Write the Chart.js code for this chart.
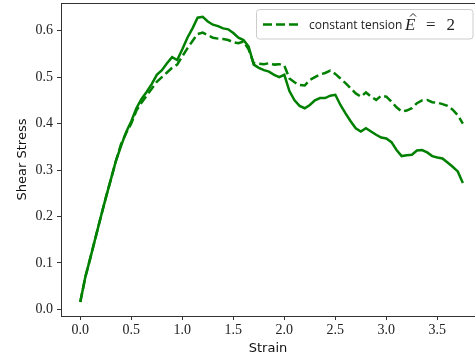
<!DOCTYPE html>
<html>
<head>
<meta charset="utf-8">
<script src="https://cdn.jsdelivr.net/npm/chart.js@4.4.1/dist/chart.umd.min.js"></script>
<style>
  html, body { margin: 0; padding: 0; background: #fff; overflow: hidden; }
  #wrap { width: 475px; height: 360px; position: relative; }
</style>
</head>
<body>
<div id="wrap"><canvas id="c" width="475" height="360"></canvas></div>
<script>
// ---- data ----
const strain = [0.00,0.05,0.10,0.15,0.20,0.25,0.30,0.35,0.40,0.45,0.50,0.55,0.60,0.65,0.70,0.75,0.80,0.85,0.90,0.95,
  1.00,1.05,1.10,1.15,1.20,1.25,1.30,1.35,1.40,1.45,1.50,1.55,1.60,1.65,1.70,1.75,1.80,1.85,1.90,1.95,
  2.00,2.05,2.10,2.15,2.20,2.25,2.30,2.35,2.40,2.45,2.50,2.55,2.60,2.65,2.70,2.75,2.80,2.85,2.90,2.95,
  3.00,3.05,3.10,3.15,3.20,3.25,3.30,3.35,3.40,3.45,3.50,3.55,3.60,3.65,3.70,3.75];

const stressSolid = [0.016,0.070,0.112,0.155,0.198,0.240,0.280,0.320,0.352,0.382,0.405,0.433,0.453,0.468,0.485,0.505,0.515,0.530,0.543,0.537,
  0.560,0.585,0.605,0.628,0.630,0.620,0.613,0.610,0.605,0.603,0.595,0.585,0.580,0.566,0.527,0.520,0.515,0.512,0.505,0.500,
  0.505,0.470,0.450,0.438,0.433,0.440,0.450,0.455,0.455,0.460,0.462,0.440,0.422,0.405,0.390,0.383,0.390,0.383,0.376,0.370,
  0.368,0.360,0.343,0.330,0.332,0.333,0.342,0.343,0.338,0.330,0.327,0.325,0.316,0.307,0.297,0.272];

const stressDashed = [0.016,0.070,0.112,0.155,0.198,0.240,0.280,0.320,0.356,0.380,0.400,0.428,0.445,0.460,0.475,0.490,0.500,0.510,0.520,0.527,
  0.545,0.562,0.578,0.593,0.596,0.590,0.585,0.583,0.582,0.580,0.575,0.573,0.577,0.560,0.530,0.529,0.528,0.530,0.527,0.528,
  0.525,0.497,0.489,0.483,0.482,0.494,0.500,0.506,0.509,0.514,0.507,0.497,0.487,0.476,0.465,0.458,0.467,0.458,0.451,0.460,
  0.458,0.447,0.435,0.426,0.428,0.433,0.444,0.450,0.451,0.446,0.445,0.442,0.438,0.430,0.418,0.400];

const xTicks = [0.0,0.5,1.0,1.5,2.0,2.5,3.0,3.5];
const yTicks = [0.0,0.1,0.2,0.3,0.4,0.5,0.6];
const legendLabel = 'constant tension';
const legendMath = ['E', '=', '2'];
const xTitle = 'Strain';
const yTitle = 'Shear Stress';

// ---- chart ----
const GREEN = '#008000';
const AXIS = '#333333';

const topSpine = {
  id: 'topSpine',
  afterDraw(chart) {
    const {ctx, chartArea} = chart;
    ctx.save();
    ctx.strokeStyle = AXIS;
    ctx.lineWidth = 1;
    ctx.beginPath();
    ctx.moveTo(chartArea.left, Math.round(chartArea.top) + 0.5);
    ctx.lineTo(chartArea.right, Math.round(chartArea.top) + 0.5);
    ctx.stroke();
    ctx.restore();
  }
};

const boxLegend = {
  id: 'boxLegend',
  afterDraw(chart) {
    const {ctx} = chart;
    const x0 = 256.5, y0 = 9.5, x1 = 473, y1 = 39, r = 3;
    ctx.save();
    ctx.fillStyle = 'rgba(255,255,255,0.8)';
    ctx.strokeStyle = '#cccccc';
    ctx.lineWidth = 1;
    ctx.beginPath();
    ctx.roundRect(x0, y0, x1 - x0, y1 - y0, r);
    ctx.fill();
    ctx.stroke();
    // line sample
    ctx.strokeStyle = GREEN;
    ctx.lineWidth = 2.5;
    ctx.setLineDash([9, 4]);
    ctx.beginPath();
    ctx.moveTo(263, 24.5);
    ctx.lineTo(298, 24.5);
    ctx.stroke();
    ctx.setLineDash([]);
    // text
    ctx.fillStyle = '#222';
    ctx.textBaseline = 'alphabetic';
    ctx.textAlign = 'left';
    ctx.font = '12px "Open Sans"';
    ctx.fillText(legendLabel, 309, 29);
    ctx.font = 'italic 17px "Liberation Serif"';
    ctx.fillText(legendMath[0], 405, 29.5);
    // hat accent over the E
    ctx.strokeStyle = '#222';
    ctx.lineWidth = 1;
    ctx.beginPath();
    ctx.moveTo(410, 16.5);
    ctx.lineTo(413, 13.5);
    ctx.lineTo(416, 16.5);
    ctx.stroke();
    ctx.font = '17px "Liberation Serif"';
    ctx.fillText(legendMath[1], 426, 29.5);
    ctx.fillText(legendMath[2], 446.5, 29.5);
    ctx.restore();
  }
};

const tickFont = {family: '"Liberation Serif"', size: 14};

new Chart(document.getElementById('c'), {
  type: 'line',
  data: {
    datasets: [
      {
        label: '',
        data: strain.map((s, i) => ({x: s, y: stressSolid[i]})),
        borderColor: GREEN,
        borderWidth: 2.5,
        pointRadius: 0,
        tension: 0,
        fill: false
      },
      {
        label: legendLabel + ' Ê = 2',
        data: strain.map((s, i) => ({x: s, y: stressDashed[i]})),
        borderColor: GREEN,
        borderWidth: 2.5,
        borderDash: [9, 4],
        pointRadius: 0,
        tension: 0,
        fill: false
      }
    ]
  },
  options: {
    responsive: false,
    animation: false,
    devicePixelRatio: 1,
    layout: {padding: {left: 0, right: 0, top: 3, bottom: 0}},
    plugins: {legend: {display: false}, tooltip: {enabled: false}},
    scales: {
      x: {
        type: 'linear',
        min: -0.189,
        max: 3.869,
        afterBuildTicks: (s) => { s.ticks = xTicks.map(v => ({value: v})); },
        afterFit: (s) => { s.height = 44; s.paddingLeft = 0; s.paddingRight = 0; },
        ticks: {
          color: '#222', font: tickFont, padding: 2, maxRotation: 0,
          callback: (v) => v.toFixed(1)
        },
        grid: {drawOnChartArea: false, drawTicks: true, tickLength: 4, color: AXIS},
        border: {display: true, color: AXIS, width: 1},
        title: {display: true, text: xTitle, color: '#111',
          font: {family: '"DejaVu Sans"', size: 13}, padding: {top: 0, bottom: 4}}
      },
      y: {
        type: 'linear',
        min: -0.0144,
        max: 0.6597,
        afterBuildTicks: (s) => { s.ticks = yTicks.map(v => ({value: v})); },
        afterFit: (s) => { s.width = 61; s.paddingTop = 0; s.paddingBottom = 0; },
        ticks: {
          color: '#222', font: tickFont, padding: 4,
          callback: (v) => v.toFixed(1)
        },
        grid: {drawOnChartArea: false, drawTicks: true, tickLength: 4, color: AXIS},
        border: {display: true, color: AXIS, width: 1},
        title: {display: true, text: yTitle, color: '#111',
          font: {family: '"DejaVu Sans"', size: 13}, padding: {top: 15, bottom: 0}}
      }
    }
  },
  plugins: [topSpine, boxLegend]
});
</script>
</body>
</html>
